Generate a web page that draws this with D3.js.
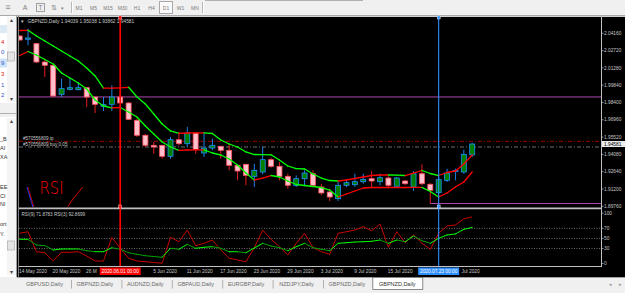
<!DOCTYPE html>
<html>
<head>
<meta charset="utf-8">
<script src="https://cdn.jsdelivr.net/npm/d3@7"></script>
<style>
    html, body { margin: 0; padding: 0; background: #f0f0f0; }
    svg { display: block; font-family: "Liberation Sans", Arial, sans-serif; }
</style>
</head>
<body>
<svg id="chart" width="625" height="293"></svg>
<script>
"use strict";

// ---- data -------------------------------------------------------------------------------------

const DATES = [
    '2020-05-14', '2020-05-15', '2020-05-18', '2020-05-19', '2020-05-20', '2020-05-21', '2020-05-22',
    '2020-05-25', '2020-05-26', '2020-05-27', '2020-05-28', '2020-05-29', '2020-06-01', '2020-06-02',
    '2020-06-03', '2020-06-04', '2020-06-05', '2020-06-08', '2020-06-09', '2020-06-10', '2020-06-11',
    '2020-06-12', '2020-06-15', '2020-06-16', '2020-06-17', '2020-06-18', '2020-06-19', '2020-06-22',
    '2020-06-23', '2020-06-24', '2020-06-25', '2020-06-26', '2020-06-29', '2020-06-30', '2020-07-01',
    '2020-07-02', '2020-07-03', '2020-07-06', '2020-07-07', '2020-07-08', '2020-07-09', '2020-07-10',
    '2020-07-13', '2020-07-14', '2020-07-15', '2020-07-16', '2020-07-17', '2020-07-20', '2020-07-21',
    '2020-07-22', '2020-07-23', '2020-07-24', '2020-07-27', '2020-07-28', '2020-07-29',
];

const OPEN = [
    2.03935, 2.03661, 2.03294, 2.01771, 2.01496, 1.99082, 1.99499, 1.99465, 1.99632, 1.98858,
    1.98084, 1.98250, 1.98858, 1.98358, 1.96918, 1.95670, 1.94837, 1.94837, 1.93922, 1.95303,
    1.94970, 1.95861, 1.94196, 1.94612, 1.94754, 1.94421, 1.93172, 1.93256, 1.92257, 1.92615,
    1.93639, 1.93089, 1.92257, 1.91508, 1.92057, 1.92473, 1.91366, 1.90950, 1.90392, 1.91508,
    1.91558, 1.91807, 1.92057, 1.91807, 1.92115, 1.91424, 1.91866, 1.91366, 1.92473, 1.91591,
    1.90892, 1.91924, 1.92656, 1.92615, 1.94039,
];
const HIGH = [
    2.04019, 2.04543, 2.03353, 2.01913, 2.01546, 2.00381, 2.00439, 2.00106, 1.99690, 1.98899,
    1.98858, 1.99832, 1.99274, 1.98442, 1.97051, 1.95778, 1.95112, 1.94862, 1.95528, 1.95944,
    1.96361, 1.95944, 1.95944, 1.95387, 1.94779, 1.94970, 1.93197, 1.93281, 1.93306, 1.94696,
    1.93805, 1.93447, 1.92473, 1.92340, 1.92756, 1.92756, 1.91641, 1.91225, 1.91782, 1.91924,
    1.92473, 1.92473, 1.92698, 1.92473, 1.92257, 1.92199, 1.91949, 1.92698, 1.93256, 1.91699,
    1.92199, 1.92890, 1.92890, 1.94471, 1.95038,
];
const LOW = [
    2.03519, 2.03161, 2.01688, 2.00523, 1.98858, 1.98858, 1.99415, 1.99415, 1.98025, 1.97526,
    1.97692, 1.97692, 1.98275, 1.96943, 1.95528, 1.94696, 1.94138, 1.93722, 1.93722, 1.94837,
    1.94696, 1.94138, 1.93863, 1.94421, 1.93722, 1.92756, 1.91924, 1.91508, 1.91366, 1.92423,
    1.92973, 1.91924, 1.91225, 1.91366, 1.91508, 1.91449, 1.90675, 1.90201, 1.90201, 1.91366,
    1.91366, 1.91641, 1.91366, 1.91508, 1.91366, 1.91366, 1.91533, 1.91033, 1.91508, 1.89993,
    1.90808, 1.91782, 1.91924, 1.92473, 1.93862,
];
const CLOSE = [
    2.03602, 2.03769, 2.01771, 2.01496, 1.98941, 1.99549, 1.99632, 1.99632, 1.98858, 1.98250,
    1.98217, 1.98858, 1.98358, 1.97001, 1.95670, 1.94837, 1.94696, 1.93922, 1.95303, 1.94970,
    1.95861, 1.94471, 1.94612, 1.94837, 1.94421, 1.93172, 1.92698, 1.92340, 1.92756, 1.93639,
    1.93089, 1.92257, 1.91508, 1.92057, 1.92531, 1.91508, 1.90867, 1.90534, 1.91508, 1.91724,
    1.91807, 1.92007, 1.91866, 1.92140, 1.91508, 1.92115, 1.91641, 1.92473, 1.91641, 1.91092,
    1.91974, 1.92531, 1.92740, 1.94088, 1.94945,
];

// channel indicator, coloured red while rising and green while falling
const CHANNEL_UPPER = [
    2.04393, 2.04410, 2.03935, 2.03519, 2.03103, 2.02687, 2.02271, 2.01854, 2.01272, 2.00606,
    1.99590, 1.99600, 1.99620, 1.99665, 1.98858, 1.98275, 1.97443, 1.96610, 1.96028, 1.95836,
    1.95861, 1.95878, 1.95878, 1.95820, 1.95278, 1.94945, 1.94696, 1.94280, 1.94071, 1.94063,
    1.94046, 1.93614, 1.93114, 1.92890, 1.92864, 1.92448, 1.92115, 1.91907, 1.91866, 1.91949,
    1.92074, 1.92199, 1.92323, 1.92365, 1.92365, 1.92349, 1.92323, 1.92531, 1.92740, 1.92490,
    1.92323, 1.92573, 1.92698, 1.93281, 1.94030,
];
const CHANNEL_LOWER = [
    2.02312, 2.02645, 2.02354, 2.01979, 2.01605, 2.00855, 2.00439, 2.00023, 1.99524, 1.98608,
    1.98109, 1.97959, 1.97984, 1.97609, 1.97193, 1.96444, 1.95778, 1.95112, 1.94696, 1.94421,
    1.94446, 1.94463, 1.94463, 1.94196, 1.94030, 1.93697, 1.93197, 1.92531, 1.91949, 1.92115,
    1.92323, 1.92199, 1.91866, 1.91574, 1.91491, 1.91408, 1.91324, 1.91116, 1.90534, 1.90783,
    1.91033, 1.91283, 1.91324, 1.91324, 1.91324, 1.91324, 1.91324, 1.91333, 1.91333, 1.90992,
    1.90534, 1.90867, 1.91366, 1.91782, 1.92615,
];

const RSI_FAST = [
    60.2, 63.3, 23.5, 21.5, 5.0, 22.3, 22.3, 23.5, 14.9, 5.0,
    5.0, 52.2, 30.3, 10.4, 5.0, 3.6, 2.0, 0.5, 52.2, 43.4,
    66.7, 35.5, 40.2, 46.8, 26.9, 10.4, 7.0, 3.6, 31.5, 66.7,
    48.2, 33.5, 16.9, 40.2, 60.2, 31.9, 23.5, 18.3, 60.2, 63.3,
    66.7, 73.3, 65.3, 78.7, 32.3, 63.3, 41.4, 56.8, 40.2, 28.3,
    60.2, 74.7, 76.7, 89.0, 92.87,
];
const RSI_SLOW = [
    48.2, 48.2, 36.9, 35.5, 26.9, 28.9, 28.9, 28.9, 25.5, 23.5,
    23.5, 31.5, 28.3, 21.5, 18.3, 15.5, 13.9, 12.4, 30.3, 28.3,
    38.2, 30.3, 32.3, 33.5, 30.3, 23.5, 23.5, 21.5, 30.9, 40.2,
    34.9, 31.5, 25.5, 33.5, 40.2, 31.5, 28.3, 25.5, 40.2, 41.4,
    42.8, 43.4, 44.2, 46.8, 40.2, 46.8, 43.4, 54.8, 45.4, 40.2,
    50.2, 56.8, 58.8, 68.1, 71.88,
];

const PRICE_TICKS = [1.89760, 1.91200, 1.92640, 1.94080, 1.95520, 1.96960, 1.98400, 1.99840, 2.01280, 2.02720, 2.04160];
const RSI_TICKS = [0, 30, 50, 70, 100];
const RSI_DOTTED_LEVELS = [30, 50, 70];

const HORIZONTAL_LEVEL = 1.98861;
const RAY_START_BAR = 49;
const TP_LEVEL = 1.95170;
const BUY_LEVEL = 1.94696;
const ORDER_TICKET = '#570556809';
const RED_VLINE_DATE = '2020-06-01';
const BLUE_VLINE_DATE = '2020-07-23';

const SYMBOL_TITLE = 'GBPNZD,Daily';
const TITLE_OHLC = ['1.94039', '1.95038', '1.93862', '1.94581'];
const BID_TEXT = '1.94581';
const RSI_TITLE = 'RSI(9) 71.8783 RSI(3) 92.8699';

const TIMEFRAMES = ['M1', 'M5', 'M15', 'M30', 'H1', 'H4', 'D1', 'W1', 'MN'];
const ACTIVE_TIMEFRAME = 'D1';
const TABS = ['GBPUSD,Daily', 'GBPNZD,Daily', 'AUDNZD,Daily', 'GBPAUD,Daily', 'EURGBP,Daily',
    'NZDJPY,Daily', 'GBPNZD,Daily', 'GBPNZD,Daily'];
const ACTIVE_TAB = 7;

// ---- layout -----------------------------------------------------------------------------------

const MAIN = { left: 19, right: 601, top: 17, bottom: 207 };
const SUB = { top: 209.5, bottom: 266 };
const CURSOR_BOX_HALF = 20.5;

const COLORS = {
    frame: '#c0c0c0',
    text: '#c8c8c8',
    bullBody: '#008000',
    bullLine: '#1e90ff',
    bearBody: '#ffc0cb',
    bearLine: '#ff2020',
    up: '#ff0000',
    down: '#00ff00',
    rsiFast: '#c80000',
    rsiSlow: '#00ff00',
    rsiSlowDown: '#00a000',
    purple: '#c050c0',
};

const parseDate = d3.timeParse('%Y-%m-%d');
const axisDate = d3.timeFormat('%-d %b %Y');
const cursorDate = d3.timeFormat('%Y.%m.%d %H:%M');

const svg = d3.select('#chart');

// bar index -> x (8.38 px per bar)
const x = d3.scaleLinear().domain([-0.08, 69.37]).range([MAIN.left, MAIN.right]);
const y = d3.scaleLinear().domain([1.89702, 2.05516]).range([MAIN.bottom, MAIN.top]);
const yRsi = d3.scaleLinear().domain([0, 100]).range([263.5, 213.3]);

const CURSORS = [
    { bar: DATES.indexOf(RED_VLINE_DATE), color: '#ff0000', width: 1.7 },
    { bar: DATES.indexOf(BLUE_VLINE_DATE), color: '#2f8fff', width: 1.1 },
];

const defs = svg.append('defs');
defs.append('clipPath').attr('id', 'clip-main')
    .append('rect').attr('x', MAIN.left).attr('y', MAIN.top)
    .attr('width', MAIN.right - MAIN.left).attr('height', MAIN.bottom - MAIN.top);
defs.append('clipPath').attr('id', 'clip-sub')
    .append('rect').attr('x', MAIN.left).attr('y', SUB.top)
    .attr('width', MAIN.right - MAIN.left).attr('height', SUB.bottom - SUB.top);

/**
 * Small helper for the tiny terminal-style labels.
 */
function label(parent, text, px, py, opts = {}) {
    return parent.append('text')
        .attr('x', px).attr('y', py)
        .attr('font-size', opts.size || 4.8)
        .attr('fill', opts.fill || COLORS.text)
        .attr('text-anchor', opts.anchor || 'start')
        .attr('font-weight', opts.weight || null)
        .text(text);
}

// ---- toolbar ----------------------------------------------------------------------------------

function drawToolbar() {
    const g = svg.append('g');
    g.append('rect').attr('width', 625).attr('height', 15).attr('fill', '#f0f0f0');
    g.append('line').attr('x1', 205).attr('x2', 363).attr('y1', 0.5).attr('y2', 0.5).attr('stroke', '#b0b0b0');

    label(g, '≡', 8, 10, { size: 9, fill: '#909090', anchor: 'middle' });
    label(g, 'A', 25, 10, { size: 7, fill: '#808080', anchor: 'middle' });
    g.append('rect').attr('x', 36.5).attr('y', 3.5).attr('width', 8).attr('height', 8)
        .attr('fill', 'none').attr('stroke', '#a0a0a0');
    label(g, 'T', 40.5, 10, { size: 6.5, fill: '#808080', anchor: 'middle' });
    label(g, '⇅', 54, 10, { size: 7, fill: '#808080', anchor: 'middle' });
    label(g, '▾', 62, 9.5, { size: 5, fill: '#808080', anchor: 'middle' });

    for (const sx of [71, 202]) {
        g.append('line').attr('x1', sx + 0.5).attr('x2', sx + 0.5).attr('y1', 2).attr('y2', 13).attr('stroke', '#b8b8b8');
        g.append('line').attr('x1', sx + 1.5).attr('x2', sx + 1.5).attr('y1', 2).attr('y2', 13).attr('stroke', '#ffffff');
    }

    const bx = d3.scalePoint().domain(TIMEFRAMES).range([79, 195]);
    g.append('rect').attr('x', bx(ACTIVE_TIMEFRAME) - 6.5).attr('y', 1.5).attr('width', 13).attr('height', 12)
        .attr('fill', '#fbfbfb').attr('stroke', '#a8a8a8');
    for (const tf of TIMEFRAMES) {
        label(g, tf, bx(tf), 9.5, { size: 5, fill: '#7a7a7a', anchor: 'middle' });
    }
    g.append('line').attr('x1', 0).attr('x2', 625).attr('y1', 15.5).attr('y2', 15.5).attr('stroke', '#a8a8a8');
}

// ---- left docked panel (mostly cut off) -------------------------------------------------------

function drawSidePanel() {
    const g = svg.append('g');
    g.append('rect').attr('x', 0).attr('y', 16).attr('width', 17).attr('height', 261).attr('fill', '#ffffff');
    g.append('rect').attr('x', 0).attr('y', 25).attr('width', 7).attr('height', 8).attr('fill', '#dde9f5');
    g.append('rect').attr('x', 0).attr('y', 58.5).attr('width', 7).attr('height', 9).attr('fill', '#cde4f8');
    const upper = [['4', '#e01010', 43.5], ['0', '#3a4fc8', 54], ['9', '#3a4fc8', 65], ['3', '#e01010', 76],
        ['1', '#3a4fc8', 87], ['2', '#3a4fc8', 96.5]];
    for (const [t, c, ty] of upper) {
        label(g, t, 1, ty, { size: 6, fill: c });
    }
    // scroll bars
    for (const [top, bottom, thumb] of [[17, 102, 52], [118, 275, 241]]) {
        g.append('rect').attr('x', 7).attr('y', top).attr('width', 9).attr('height', bottom - top).attr('fill', '#f4f4f4');
        label(g, '▴', 11.5, top + 5, { size: 6, fill: '#404040', anchor: 'middle' });
        label(g, '▾', 11.5, bottom - 1, { size: 6, fill: '#404040', anchor: 'middle' });
        g.append('rect').attr('x', 7.5).attr('y', thumb).attr('width', 7).attr('height', 9)
            .attr('fill', '#e4e4e4').attr('stroke', '#a0a0a0').attr('stroke-width', 0.6);
    }
    g.append('rect').attr('x', 0).attr('y', 103).attr('width', 17).attr('height', 14).attr('fill', '#f0f0f0');
    g.append('line').attr('x1', 0).attr('x2', 17).attr('y1', 113.5).attr('y2', 113.5).attr('stroke', '#b0b0b0');
    const lower = [['_B', 141], ['AI', 150], ['XA', 159], ['EE', 189], ['CI', 198], ['NI', 206], ['ort', 226], ['Y.', 236]];
    for (const [t, ty] of lower) {
        label(g, t, 0, ty, { size: 5.5, fill: '#303030' });
    }
    g.append('line').attr('x1', 16.5).attr('x2', 16.5).attr('y1', 16).attr('y2', 277).attr('stroke', '#a0a0a0');
}

// ---- chart window -----------------------------------------------------------------------------

function drawFrame() {
    svg.append('rect').attr('x', 17).attr('y', 16).attr('width', 608).attr('height', 261).attr('fill', '#000000');
    svg.append('line').attr('x1', 17).attr('x2', 625).attr('y1', 16.5).attr('y2', 16.5).attr('stroke', '#d0d0d0');
    svg.append('line').attr('x1', 18.5).attr('x2', 18.5).attr('y1', 16).attr('y2', 277).attr('stroke', '#808080');
    svg.append('line').attr('x1', MAIN.right + 0.5).attr('x2', MAIN.right + 0.5).attr('y1', 16).attr('y2', SUB.bottom)
        .attr('stroke', COLORS.frame);
    svg.append('line').attr('x1', MAIN.left).attr('x2', MAIN.right).attr('y1', 208.3).attr('y2', 208.3)
        .attr('stroke', COLORS.frame).attr('stroke-width', 1.8);
    svg.append('line').attr('x1', MAIN.left).attr('x2', MAIN.right + 1).attr('y1', SUB.bottom + 0.5).attr('y2', SUB.bottom + 0.5)
        .attr('stroke', COLORS.frame);
}

function drawPriceAxis() {
    const g = svg.append('g');
    for (const t of PRICE_TICKS) {
        const ty = y(t);
        g.append('line').attr('x1', MAIN.right).attr('x2', MAIN.right + 2.5).attr('y1', ty).attr('y2', ty)
            .attr('stroke', COLORS.text).attr('stroke-width', 0.7);
        label(g, d3.format('.5f')(t), 604, ty + 1.7);
    }
    // bid label sits on the last close
    const by = y(CLOSE[CLOSE.length - 1]);
    g.append('rect').attr('x', MAIN.right + 1).attr('y', by - 3).attr('width', 23).attr('height', 6).attr('fill', '#ececec');
    label(g, BID_TEXT, 604, by + 1.8, { fill: '#000000' });

    for (const t of RSI_TICKS) {
        const ty = yRsi(t);
        g.append('line').attr('x1', MAIN.right).attr('x2', MAIN.right + 2.5).attr('y1', ty).attr('y2', ty)
            .attr('stroke', COLORS.text).attr('stroke-width', 0.7);
        label(g, String(t), 604, ty + 1.7);
    }
}

/**
 * Date labels every fourth bar. The cursor boxes cover part of the axis, so labels under a box are
 * dropped and labels that only touch one are cut back to the part that stays visible.
 */
function drawTimeAxis() {
    const g = svg.append('g');
    const boxes = CURSORS.map(c => [x(c.bar) - CURSOR_BOX_HALF, x(c.bar) + CURSOR_BOX_HALF]);
    DATES.forEach((d, i) => {
        if (i % 4 !== 0) return;
        const full = axisDate(parseDate(d));
        const node = label(g, full, x(i) - 0.6, 272.8);
        const left = x(i) - 0.6;
        const right = left + node.node().getComputedTextLength();
        for (const [b0, b1] of boxes) {
            if (right < b0 || left > b1) continue;
            if (left >= b0 - 2 && right <= b1 + 2) {
                node.remove();
                return;
            }
            let txt = full;
            if (left < b0) {
                while (txt.length && left + node.text(txt).node().getComputedTextLength() > b0 - 0.5) {
                    txt = txt.slice(0, -1);
                }
                node.text(txt.trimEnd());
            } else {
                while (txt.length && right - node.text(txt).node().getComputedTextLength() < b1 + 0.5) {
                    txt = txt.slice(1);
                }
                txt = txt.trimStart();
                node.text(txt).attr('x', right - node.node().getComputedTextLength());
            }
        }
    });
}

function drawLevels() {
    const g = svg.append('g').attr('clip-path', 'url(#clip-main)');
    g.append('line').attr('x1', MAIN.left).attr('x2', MAIN.right)
        .attr('y1', y(HORIZONTAL_LEVEL)).attr('y2', y(HORIZONTAL_LEVEL))
        .attr('stroke', COLORS.purple).attr('stroke-width', 0.9);
    g.append('line').attr('x1', x(RAY_START_BAR)).attr('x2', MAIN.right)
        .attr('y1', y(LOW[RAY_START_BAR])).attr('y2', y(LOW[RAY_START_BAR]))
        .attr('stroke', COLORS.purple).attr('stroke-width', 0.9);
    g.append('line').attr('x1', MAIN.left).attr('x2', MAIN.right)
        .attr('y1', y(TP_LEVEL)).attr('y2', y(TP_LEVEL))
        .attr('stroke', '#a00000').attr('stroke-width', 1).attr('stroke-dasharray', '4,2,1,2');
    g.append('line').attr('x1', MAIN.left).attr('x2', MAIN.right)
        .attr('y1', y(BUY_LEVEL)).attr('y2', y(BUY_LEVEL))
        .attr('stroke', '#8a8a8a').attr('stroke-width', 0.8).attr('stroke-dasharray', '4,2,1,2');
    label(g, ORDER_TICKET + ' tp', 23, y(TP_LEVEL) - 1.3, { size: 4.6 });
    label(g, ORDER_TICKET + ' buy 0.05', 23, y(BUY_LEVEL) - 1.3, { size: 4.6 });
}

function drawCandles() {
    const g = svg.append('g').attr('clip-path', 'url(#clip-main)');
    const bars = DATES.map((d, i) => ({ i, o: OPEN[i], h: HIGH[i], l: LOW[i], c: CLOSE[i], bull: CLOSE[i] >= OPEN[i] }));
    const bodyWidth = 5;

    g.selectAll('line.wick').data(bars).join('line')
        .classed('wick', true)
        .attr('x1', d => x(d.i)).attr('x2', d => x(d.i))
        .attr('y1', d => y(d.h)).attr('y2', d => y(d.l))
        .attr('stroke', d => d.bull ? COLORS.bullLine : COLORS.bearLine)
        .attr('stroke-width', 0.9);

    g.selectAll('rect.body').data(bars).join('rect')
        .classed('body', true)
        .attr('x', d => x(d.i) - bodyWidth / 2)
        .attr('y', d => y(Math.max(d.o, d.c)))
        .attr('width', bodyWidth)
        .attr('height', d => Math.max(1, Math.abs(y(d.o) - y(d.c))))
        .attr('fill', d => d.bull ? COLORS.bullBody : COLORS.bearBody)
        .attr('stroke', d => d.bull ? COLORS.bullLine : '#ff5060')
        .attr('stroke-width', 0.8);
}

/**
 * Draws a polyline piece by piece, picking a colour from the direction of each piece.
 */
function drawSlopeLine(g, values, scale, upColor, downColor, width) {
    const pieces = values.slice(1).map((v, k) => ({ k, a: values[k], b: v }));
    g.append('g').selectAll('line').data(pieces).join('line')
        .attr('x1', d => x(d.k)).attr('x2', d => x(d.k + 1))
        .attr('y1', d => scale(d.a)).attr('y2', d => scale(d.b))
        .attr('stroke', d => d.b >= d.a ? upColor : downColor)
        .attr('stroke-width', width)
        .attr('stroke-linecap', 'round');
}

function drawChannel() {
    const g = svg.append('g').attr('clip-path', 'url(#clip-main)');
    drawSlopeLine(g, CHANNEL_UPPER, y, COLORS.up, COLORS.down, 1.3);
    drawSlopeLine(g, CHANNEL_LOWER, y, COLORS.up, COLORS.down, 1.3);
}

function drawRsi() {
    const g = svg.append('g').attr('clip-path', 'url(#clip-sub)');
    for (const lv of RSI_DOTTED_LEVELS) {
        g.append('line').attr('x1', MAIN.left).attr('x2', MAIN.right).attr('y1', yRsi(lv)).attr('y2', yRsi(lv))
            .attr('stroke', '#a0a0a0').attr('stroke-width', 0.7).attr('stroke-dasharray', '1,1.5');
    }
    const line = d3.line().x((d, i) => x(i)).y(d => yRsi(d));
    g.append('path').attr('d', line(RSI_FAST)).attr('fill', 'none')
        .attr('stroke', COLORS.rsiFast).attr('stroke-width', 1);
    drawSlopeLine(g, RSI_SLOW, yRsi, COLORS.rsiSlow, COLORS.rsiSlowDown, 1);
    label(svg, RSI_TITLE, 21.5, 216, { size: 4.6 });
}

function drawCursorLines() {
    const g = svg.append('g');
    for (const ln of CURSORS) {
        const lx = x(ln.bar);
        g.append('line').attr('x1', lx).attr('x2', lx).attr('y1', MAIN.top).attr('y2', SUB.bottom)
            .attr('stroke', ln.color).attr('stroke-width', ln.width);
        for (const my of [MAIN.top + 0.5, MAIN.bottom - 0.5]) {
            g.append('rect').attr('x', lx - 1.5).attr('y', my - 1.5).attr('width', 3).attr('height', 3)
                .attr('fill', ln.color).attr('stroke', '#ffffff').attr('stroke-width', 0.4);
        }
        g.append('rect').attr('x', lx - CURSOR_BOX_HALF).attr('y', 267.5)
            .attr('width', CURSOR_BOX_HALF * 2).attr('height', 7.5).attr('fill', ln.color);
        label(g, cursorDate(parseDate(DATES[ln.bar])), lx, 273, { fill: '#ffffff', anchor: 'middle' });
    }
}

function drawTitle() {
    const g = svg.append('g');
    label(g, '▾', 22.5, 22.5, { size: 5, fill: '#d0d0d0', anchor: 'middle' });
    label(g, SYMBOL_TITLE + '  ' + TITLE_OHLC.join(' '), 27.5, 22.5, { size: 4.8 });
}

// hand-drawn marks the user left on the screenshot (pixel coordinates of the overlay)
function drawScribbles() {
    const g = svg.append('g').attr('clip-path', 'url(#clip-main)');
    g.append('text').attr('x', 39.5).attr('y', 194).attr('font-family', 'DejaVu Sans')
        .attr('font-weight', 200).attr('font-size', 18).attr('fill', '#ff0000')
        .attr('textLength', 24).attr('lengthAdjust', 'spacingAndGlyphs').text('RSI');
    const curve = d3.line().curve(d3.curveBasis);
    g.append('path').attr('d', curve([[67, 208], [72, 200], [78, 193], [82.5, 187]]))
        .attr('fill', 'none').attr('stroke', '#ff0000').attr('stroke-width', 0.9);
    g.append('path').attr('d', curve([[27, 187], [29, 194], [31, 201], [33, 207]]))
        .attr('fill', 'none').attr('stroke', '#2040ff').attr('stroke-width', 1);
    g.append('path').attr('d', curve([[28, 187], [30, 194], [32, 201], [34, 207]]))
        .attr('fill', 'none').attr('stroke', '#ff0000').attr('stroke-width', 0.7);
}

// ---- tabs -------------------------------------------------------------------------------------

function drawTabs() {
    const g = svg.append('g');
    g.append('rect').attr('x', 0).attr('y', 277).attr('width', 625).attr('height', 16).attr('fill', '#f0f0f0');
    g.append('line').attr('x1', 17).attr('x2', 625).attr('y1', 277.5).attr('y2', 277.5).attr('stroke', '#a0a0a0');
    const tabX = d3.scaleLinear().domain([0, 1]).range([44.5, 94.9]);
    TABS.forEach((t, i) => {
        const cx = tabX(i);
        if (i === ACTIVE_TAB) {
            g.append('rect').attr('x', cx - 24.5).attr('y', 277.5).attr('width', 50).attr('height', 12)
                .attr('fill', '#ffffff').attr('stroke', '#707070').attr('stroke-width', 0.8);
        } else if (i < ACTIVE_TAB - 1) {
            g.append('line').attr('x1', cx + 27).attr('x2', cx + 27).attr('y1', 280).attr('y2', 288.5)
                .attr('stroke', '#a0a0a0').attr('stroke-width', 0.8);
        }
        label(g, t, cx, 286, { size: 5.5, fill: i === ACTIVE_TAB ? '#303030' : '#6a6a6a', anchor: 'middle' });
    });
    label(g, '◂', 610, 286, { size: 5, fill: '#909090', anchor: 'middle' });
    label(g, '▸', 620, 286, { size: 5, fill: '#909090', anchor: 'middle' });
}

drawToolbar();
drawFrame();
drawSidePanel();
drawLevels();
drawCandles();
drawChannel();
drawPriceAxis();
drawRsi();
drawTimeAxis();
drawTitle();
drawScribbles();
drawCursorLines();
drawTabs();
</script>
</body>
</html>
